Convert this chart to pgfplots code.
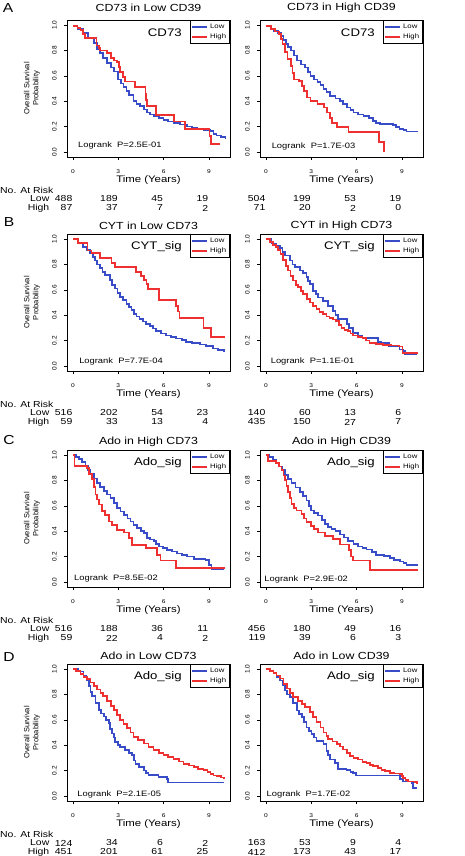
\documentclass[border=0pt]{standalone}
\usepackage{fontspec}
\setmainfont{Liberation Sans}[FakeStretch=1.2]
\newfontfamily\rotfont{Liberation Sans}
\usepackage{pgfplots}
\pgfplotsset{compat=1.18}
\definecolor{kmblue}{RGB}{56,76,200}
\definecolor{kmred}{RGB}{238,48,48}
\pgfplotsset{
 km/.style={
  scale only axis, width=163pt, height=137pt, anchor=north west,
  xmin=-0.4, xmax=10.4, ymin=-0.04, ymax=1.04,
  xtick={0,3,6,9}, ytick={0,0.2,0.4,0.6,0.8,1},
  yticklabels={0.0,0.2,0.4,0.6,0.8,1.0},
  xticklabels={0,3,6,9},
  tick pos=left, tick align=outside, major tick length=3pt,
  every tick/.style={black, line width=0.6pt},
  axis line style={line width=0.8pt},
  xticklabel style={font=\fontsize{5.5}{6}\selectfont, anchor=north, inner sep=0pt},
  yticklabel style={font=\rotfont\fontsize{6.5}{7}\selectfont, rotate=90, anchor=south, inner sep=0pt},
  xticklabel shift=9pt, yticklabel shift=7pt,
  clip=false,
  title style={font=\fontsize{10.3}{12}\selectfont, at={(axis description cs:0.5,1)}, anchor=center, yshift=2pt},
  xlabel={Time (Years)},
  xlabel style={font=\fontsize{9.5}{11}\selectfont, at={(axis description cs:0.5,0)}, anchor=center, yshift=-23pt},
  legend style={at={(1,1)}, anchor=north east, draw=black, line width=0.7pt,
    font=\fontsize{6.5}{7}\selectfont, inner sep=1.5pt, row sep=0pt, cells={anchor=west}},
  legend image code/.code={\draw[#1] (0pt,0pt) -- (15pt,0pt);},
 },
 ylab/.style={ylabel={Overall Survival\\Probability},
  ylabel style={font=\rotfont\fontsize{7.5}{9}\selectfont, align=center, at={(axis description cs:-0.215,0.5)}, anchor=center}},
 low/.style={color=kmblue, line width=1.7pt, const plot, mark=none, line join=miter},
 high/.style={color=kmred, line width=1.7pt, const plot, mark=none, line join=miter},
}
\tikzset{rk/.style={anchor=east, inner sep=0.5pt, font=\fontsize{8.7}{9}\selectfont},
 sig/.style={anchor=east, inner sep=0pt, font=\fontsize{11}{12}\selectfont},
 lr/.style={anchor=west, inner sep=0pt, font=\fontsize{7.8}{9}\selectfont}}
\newcommand\riskrows[8]{%
 \node[rk] at ([yshift=-42pt]axis cs:0,-0.04) {#1};
 \node[rk] at ([yshift=-42pt]axis cs:3,-0.04) {#2};
 \node[rk] at ([yshift=-42pt]axis cs:6,-0.04) {#3};
 \node[rk] at ([yshift=-42pt]axis cs:9,-0.04) {#4};
 \node[rk] at ([yshift=-51pt]axis cs:0,-0.04) {#5};
 \node[rk] at ([yshift=-51pt]axis cs:3,-0.04) {#6};
 \node[rk] at ([yshift=-51pt]axis cs:6,-0.04) {#7};
 \node[rk] at ([yshift=-51pt]axis cs:9,-0.04) {#8};}
\newcommand\risklabels{%
 \node[anchor=west, inner sep=0pt, font=\fontsize{8.7}{9}\selectfont] at ([xshift=-67pt,yshift=-33pt]rel axis cs:0,0) {No. At Risk};
 \node[rk] at ([xshift=-17pt,yshift=-42pt]rel axis cs:0,0) {Low};
 \node[rk] at ([xshift=-17pt,yshift=-51pt]rel axis cs:0,0) {High};}
\begin{document}
\begin{tikzpicture}
\useasboundingbox (0,0) rectangle (465pt,856pt);
\node[font=\fontsize{13}{14}\selectfont] at (8pt,848pt) {A};
\node[font=\fontsize{13}{14}\selectfont] at (9pt,634pt) {B};
\node[font=\fontsize{13}{14}\selectfont] at (9pt,416pt) {C};
\node[font=\fontsize{13}{14}\selectfont] at (9pt,199pt) {D};
% ---------------- A left
\begin{axis}[km, ylab, at={(67pt,836pt)}, title={CD73 in Low CD39}, title style={yshift=4pt}]
\addplot[low] coordinates {(0,0.99)(0.3,0.97)(0.7,0.935)(1.0,0.9)(1.37,0.856)(1.6,0.81)(1.8,0.778)(2.0,0.74)(2.25,0.70)(2.5,0.665)(2.7,0.634)(3.0,0.57)(3.2,0.54)(3.35,0.51)(3.55,0.48)(3.7,0.45)(4.0,0.40)(4.2,0.38)(4.45,0.36)(4.7,0.335)(4.9,0.31)(5.1,0.295)(5.35,0.28)(5.7,0.265)(6.0,0.25)(6.3,0.24)(6.65,0.23)(7.1,0.215)(7.55,0.20)(7.9,0.19)(8.2,0.18)(8.7,0.175)(9.1,0.165)(9.3,0.14)(9.5,0.13)(9.8,0.12)(10.1,0.10)};
\addplot[high] coordinates {(0,0.99)(0.3,0.975)(0.5,0.96)(0.65,0.93)(0.8,0.90)(1.55,0.84)(1.7,0.82)(1.8,0.80)(2.25,0.78)(2.5,0.74)(2.7,0.72)(2.9,0.71)(3.05,0.67)(3.1,0.63)(3.3,0.59)(3.45,0.556)(4.1,0.51)(4.8,0.46)(4.85,0.41)(4.9,0.36)(5.5,0.29)(6.7,0.24)(7.4,0.18)(9.05,0.125)(9.15,0.06)(9.75,0.06)};
\legend{Low,High}
\node[sig] at (rel axis cs:0.705,0.905) {CD73};
\node[lr] at (rel axis cs:0.067,0.087) {Logrank~ P=2.5E-01};
\risklabels
\riskrows{488}{189}{45}{19}{87}{37}{7}{2}
\end{axis}
% ---------------- A right
\begin{axis}[km, at={(260pt,836pt)}, title={CD73 in High CD39}, title style={yshift=4pt}]
\addplot[low] coordinates {(0,0.995)(0.3,0.97)(0.55,0.955)(0.8,0.935)(1.0,0.915)(1.15,0.88)(1.3,0.85)(1.45,0.825)(1.64,0.80)(1.85,0.76)(2.07,0.72)(2.3,0.69)(2.6,0.665)(2.8,0.63)(2.95,0.60)(3.2,0.57)(3.4,0.55)(3.6,0.525)(3.8,0.495)(4.0,0.47)(4.26,0.44)(4.6,0.42)(4.9,0.40)(5.1,0.375)(5.35,0.35)(5.6,0.33)(5.8,0.31)(6.1,0.295)(6.45,0.285)(6.8,0.265)(7.1,0.245)(7.3,0.23)(7.55,0.22)(8.4,0.213)(8.6,0.195)(8.85,0.18)(9.1,0.17)(9.3,0.16)(10.05,0.16)};
\addplot[high] coordinates {(0,0.995)(0.33,0.97)(0.6,0.95)(0.87,0.93)(1.0,0.89)(1.1,0.85)(1.25,0.79)(1.42,0.73)(1.64,0.68)(1.75,0.62)(1.86,0.57)(2.18,0.56)(2.4,0.52)(2.5,0.48)(2.73,0.43)(2.95,0.40)(3.4,0.38)(3.82,0.35)(4.04,0.31)(4.26,0.27)(4.37,0.23)(4.7,0.197)(5.46,0.158)(7.47,0.08)(7.8,0.0)};
\legend{Low,High}
\node[sig] at (rel axis cs:0.705,0.905) {CD73};
\node[lr] at (rel axis cs:0.071,0.08) {Logrank~ P=1.7E-03};
\riskrows{504}{199}{53}{19}{71}{20}{2}{0}
\end{axis}
% ---------------- B left
\begin{axis}[km, ylab, at={(67pt,622pt)}, title={CYT in Low CD73}]
\addplot[low] coordinates {(0,1.0)(0.3,0.97)(0.68,0.94)(0.9,0.915)(1.12,0.89)(1.3,0.86)(1.45,0.83)(1.6,0.80)(1.78,0.77)(1.95,0.74)(2.1,0.715)(2.44,0.676)(2.6,0.64)(2.77,0.61)(2.95,0.575)(3.1,0.545)(3.3,0.52)(3.54,0.49)(3.7,0.465)(3.87,0.44)(4.05,0.41)(4.2,0.39)(4.4,0.37)(4.64,0.35)(4.85,0.33)(5.08,0.316)(5.3,0.295)(5.52,0.274)(5.85,0.255)(6.18,0.24)(6.5,0.228)(6.84,0.216)(7.2,0.203)(7.5,0.19)(7.9,0.18)(8.4,0.17)(8.8,0.155)(9.26,0.137)(9.6,0.125)(10.0,0.11)};
\addplot[high] coordinates {(0,1.0)(0.35,0.97)(0.95,0.91)(1.23,0.89)(1.78,0.85)(2.55,0.81)(2.77,0.78)(4.15,0.74)(4.5,0.71)(4.7,0.676)(4.86,0.645)(4.97,0.605)(5.7,0.52)(6.8,0.47)(6.95,0.43)(7.06,0.38)(8.65,0.30)(9.15,0.228)(10.1,0.228)};
\legend{Low,High}
\node[sig] at (rel axis cs:0.705,0.905) {CYT\_sig};
\node[lr] at (rel axis cs:0.074,0.073) {Logrank~ P=7.7E-04};
\risklabels
\riskrows{516}{202}{54}{23}{59}{33}{13}{4}
\end{axis}
% ---------------- B right
\begin{axis}[km, at={(260pt,622pt)}, title={CYT in High CD73}]
\addplot[low] coordinates {(0,1.0)(0.37,0.965)(0.65,0.95)(0.92,0.93)(1.1,0.9)(1.25,0.87)(1.58,0.83)(1.75,0.80)(1.9,0.78)(2.24,0.753)(2.45,0.73)(2.68,0.70)(2.8,0.67)(2.9,0.646)(3.12,0.593)(3.3,0.565)(3.45,0.54)(3.77,0.513)(4.1,0.473)(4.43,0.434)(4.6,0.40)(4.76,0.37)(5.35,0.33)(5.5,0.30)(5.75,0.26)(6.1,0.24)(6.4,0.22)(7.4,0.19)(7.6,0.18)(8.17,0.154)(8.85,0.13)(9.1,0.12)(9.2,0.093)(10.0,0.093)};
\addplot[high] coordinates {(0,1.0)(0.25,0.975)(0.48,0.955)(0.65,0.935)(0.8,0.915)(0.95,0.88)(1.14,0.835)(1.3,0.79)(1.47,0.753)(1.63,0.71)(1.8,0.673)(2.0,0.64)(2.13,0.62)(2.3,0.59)(2.46,0.566)(2.7,0.53)(2.9,0.50)(3.1,0.47)(3.34,0.447)(3.55,0.425)(3.77,0.407)(4.0,0.39)(4.2,0.38)(4.45,0.365)(4.65,0.354)(4.85,0.325)(5.0,0.30)(5.2,0.285)(5.42,0.274)(5.6,0.255)(5.75,0.24)(6.1,0.23)(6.4,0.22)(6.6,0.20)(6.85,0.18)(7.3,0.172)(7.73,0.167)(8.3,0.16)(8.82,0.154)(9.04,0.10)(10.0,0.093)};
\legend{Low,High}
\node[sig] at (rel axis cs:0.705,0.905) {CYT\_sig};
\node[lr] at (rel axis cs:0.065,0.073) {Logrank~ P=1.1E-01};
\riskrows{140}{60}{13}{6}{435}{150}{27}{7}
\end{axis}
% ---------------- C left
\begin{axis}[km, ylab, at={(67pt,406pt)}, title={Ado in High CD73}]
\addplot[low] coordinates {(0,1.0)(0.2,0.985)(0.38,0.97)(0.6,0.945)(0.82,0.915)(1.0,0.88)(1.15,0.85)(1.38,0.815)(1.6,0.78)(1.8,0.75)(2.03,0.716)(2.25,0.69)(2.48,0.66)(2.7,0.62)(2.92,0.584)(3.15,0.555)(3.36,0.53)(3.6,0.50)(3.8,0.477)(4.0,0.45)(4.25,0.424)(4.5,0.40)(4.7,0.385)(4.9,0.345)(5.1,0.335)(5.35,0.32)(5.5,0.30)(5.68,0.28)(5.95,0.265)(6.24,0.252)(6.55,0.24)(6.9,0.225)(7.2,0.212)(7.56,0.20)(8.0,0.18)(8.78,0.172)(9.0,0.133)(9.18,0.10)(10.0,0.10)};
\addplot[high] coordinates {(0,1.0)(0.09,0.915)(0.93,0.90)(1.04,0.85)(1.26,0.81)(1.38,0.75)(1.48,0.69)(1.6,0.65)(1.7,0.61)(1.92,0.557)(2.14,0.53)(2.37,0.477)(2.59,0.45)(2.92,0.41)(3.36,0.39)(3.69,0.345)(3.91,0.29)(4.85,0.265)(5.57,0.21)(5.8,0.17)(6.83,0.11)(10.04,0.11)};
\legend{Low,High}
\node[sig] at (rel axis cs:0.705,0.905) {Ado\_sig};
\node[lr] at (rel axis cs:0.043,0.06) {Logrank~ P=8.5E-02};
\risklabels
\riskrows{516}{188}{36}{11}{59}{22}{4}{2}
\end{axis}
% ---------------- C right
\begin{axis}[km, at={(260pt,406pt)}, title={Ado in High CD39}]
\addplot[low] coordinates {(0,1.0)(0.2,0.985)(0.46,0.965)(0.7,0.94)(0.9,0.91)(1.05,0.88)(1.24,0.845)(1.45,0.81)(1.68,0.78)(1.95,0.745)(2.23,0.71)(2.45,0.68)(2.68,0.643)(2.85,0.60)(3.0,0.563)(3.2,0.545)(3.45,0.523)(3.7,0.49)(3.9,0.456)(4.1,0.435)(4.33,0.416)(4.6,0.40)(4.9,0.375)(5.15,0.35)(5.44,0.32)(5.8,0.30)(6.1,0.28)(6.4,0.27)(6.65,0.255)(7.0,0.235)(7.3,0.214)(7.8,0.205)(8.2,0.188)(8.5,0.175)(8.87,0.16)(9.1,0.148)(9.3,0.134)(10.1,0.134)};
\addplot[high] coordinates {(0,1.0)(0.13,0.952)(0.68,0.94)(0.85,0.91)(1.02,0.885)(1.15,0.84)(1.24,0.804)(1.35,0.755)(1.46,0.71)(1.57,0.66)(1.68,0.617)(1.85,0.585)(2.01,0.563)(2.34,0.536)(2.5,0.50)(2.68,0.47)(3.0,0.442)(3.2,0.415)(3.45,0.39)(3.9,0.362)(4.45,0.34)(4.9,0.295)(5.5,0.25)(5.62,0.20)(5.77,0.168)(6.88,0.094)(10.1,0.094)};
\legend{Low,High}
\node[sig] at (rel axis cs:0.705,0.905) {Ado\_sig};
\node[lr] at (rel axis cs:0.026,0.054) {Logrank~ P=2.9E-02};
\riskrows{456}{180}{49}{16}{119}{39}{6}{3}
\end{axis}
% ---------------- D left
\begin{axis}[km, ylab, at={(67pt,192pt)}, title={Ado in Low CD73}]
\addplot[low] coordinates {(0,1.0)(0.37,0.98)(0.7,0.947)(0.9,0.91)(1.04,0.867)(1.15,0.82)(1.26,0.787)(1.48,0.733)(1.7,0.68)(1.85,0.65)(2.03,0.627)(2.2,0.60)(2.36,0.573)(2.47,0.53)(2.58,0.493)(2.7,0.46)(2.8,0.427)(3.0,0.40)(3.13,0.387)(3.46,0.36)(3.7,0.34)(3.9,0.32)(4.05,0.28)(4.13,0.253)(4.35,0.227)(4.68,0.20)(4.85,0.18)(5.0,0.165)(5.67,0.147)(6.22,0.133)(6.29,0.107)(10.0,0.107)};
\addplot[high] coordinates {(0,1.0)(0.2,0.985)(0.49,0.96)(0.7,0.94)(0.93,0.92)(1.15,0.895)(1.37,0.867)(1.6,0.84)(1.81,0.813)(2.0,0.785)(2.25,0.747)(2.5,0.71)(2.7,0.68)(2.9,0.64)(3.13,0.60)(3.35,0.565)(3.57,0.533)(3.8,0.50)(4.0,0.467)(4.3,0.44)(4.68,0.413)(5.0,0.385)(5.34,0.36)(5.7,0.34)(6.0,0.32)(6.3,0.305)(6.66,0.293)(7.0,0.272)(7.32,0.253)(7.7,0.24)(8.0,0.227)(8.3,0.215)(8.65,0.205)(8.9,0.19)(9.1,0.173)(9.3,0.16)(9.53,0.155)(9.8,0.145)(10.0,0.133)};
\legend{Low,High}
\node[sig] at (rel axis cs:0.705,0.905) {Ado\_sig};
\node[lr] at (rel axis cs:0.063,0.05) {Logrank~ P=2.1E-05};
\risklabels
\riskrows{124}{34}{6}{2}{451}{201}{61}{25}
\end{axis}
% ---------------- D right
\begin{axis}[km, at={(260pt,192pt)}, title={Ado in Low CD39}]
\addplot[low] coordinates {(0,1.0)(0.25,0.985)(0.49,0.965)(0.7,0.94)(0.93,0.91)(1.1,0.87)(1.26,0.83)(1.4,0.80)(1.59,0.78)(1.8,0.73)(2.03,0.673)(2.2,0.645)(2.36,0.62)(2.5,0.58)(2.69,0.54)(2.85,0.51)(3.02,0.487)(3.2,0.46)(3.35,0.434)(3.8,0.407)(4.0,0.354)(4.1,0.32)(4.24,0.287)(4.57,0.26)(4.79,0.215)(5.34,0.207)(5.6,0.19)(5.78,0.18)(5.96,0.16)(8.87,0.135)(9.09,0.114)(9.64,0.10)(9.75,0.06)(10.0,0.06)};
\addplot[high] coordinates {(0,1.0)(0.25,0.985)(0.49,0.97)(0.7,0.95)(0.93,0.926)(1.15,0.885)(1.37,0.846)(1.6,0.81)(1.8,0.78)(2.1,0.75)(2.36,0.726)(2.6,0.70)(2.9,0.66)(3.1,0.62)(3.35,0.58)(3.6,0.54)(3.8,0.50)(4.0,0.47)(4.12,0.447)(4.4,0.43)(4.68,0.412)(4.9,0.39)(5.12,0.367)(5.35,0.34)(5.56,0.314)(5.8,0.30)(6.1,0.287)(6.4,0.27)(6.66,0.26)(6.9,0.245)(7.1,0.234)(7.4,0.22)(7.65,0.207)(7.9,0.195)(8.2,0.18)(8.5,0.176)(8.87,0.173)(9.0,0.155)(9.09,0.14)(9.25,0.125)(9.42,0.114)(9.86,0.11)(10.0,0.093)};
\legend{Low,High}
\node[sig] at (rel axis cs:0.705,0.905) {Ado\_sig};
\node[lr] at (rel axis cs:0.04,0.051) {Logrank~ P=1.7E-02};
\riskrows{163}{53}{9}{4}{412}{173}{43}{17}
\end{axis}
\end{tikzpicture}
\end{document}
